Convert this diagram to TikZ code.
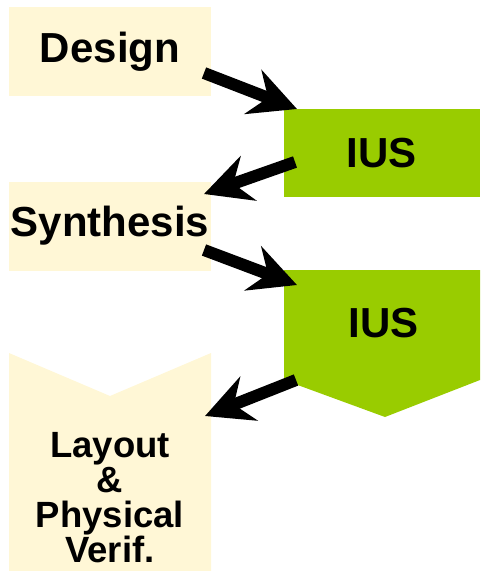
\documentclass[tikz,border=0pt]{standalone}
\usepackage{fontspec}
\setmainfont{Liberation Sans}
\usetikzlibrary{arrows.meta}

\definecolor{creme}{HTML}{FFF7D6}
\definecolor{leaf}{HTML}{99CC00}

\tikzset{
    stage/.style={fill=creme, inner sep=0pt, minimum width=202pt, minimum height=89pt,
        font=\fontsize{42}{44}\selectfont\bfseries},
    tool/.style={fill=leaf, inner sep=0pt, minimum width=196pt, minimum height=88pt,
        font=\fontsize{42}{44}\selectfont\bfseries},
    flow/.style={line width=12pt, -{Stealth[length=47pt, width=47pt, inset=16pt]}},
}

\begin{document}
\begin{tikzpicture}[x=1pt, y=-1pt]
        \useasboundingbox (0,0) rectangle (480,571);

        % boxes
        \node[stage] (design) at (110,51.5) {Design};
        \node[tool] (ius1) at (382,153) {IUS};
        \node[stage] (synth) at (110,226) {Synthesis};

        \fill[leaf] (284,270) -- (480,270) -- (480,380) -- (385,417) -- (284,380) -- cycle;
        \node[font=\fontsize{42}{44}\selectfont\bfseries, inner sep=0pt] (ius2) at (384,323) {IUS};

        \fill[creme] (9,353) -- (110,396) -- (211,353) -- (211,571) -- (9,571) -- cycle;
        \node[font=\fontsize{36.5}{35}\selectfont\bfseries, align=center, inner sep=0pt, anchor=north]
            (layout) at (110,432) {Layout\\\&\\Physical\\Verif.};

        % arrow ends
        \coordinate (a1s) at (204,73);
        \coordinate (a1e) at (297,109);
        \coordinate (a2s) at (295,162);
        \coordinate (a2e) at (204,194);
        \coordinate (a3s) at (204,250);
        \coordinate (a3e) at (297,285);
        \coordinate (a4s) at (296,380);
        \coordinate (a4e) at (205,416);

        \draw[flow] (a1s) -- (a1e);
        \draw[flow] (a2s) -- (a2e);
        \draw[flow] (a3s) -- (a3e);
        \draw[flow] (a4s) -- (a4e);
    \end{tikzpicture}
\end{document}
